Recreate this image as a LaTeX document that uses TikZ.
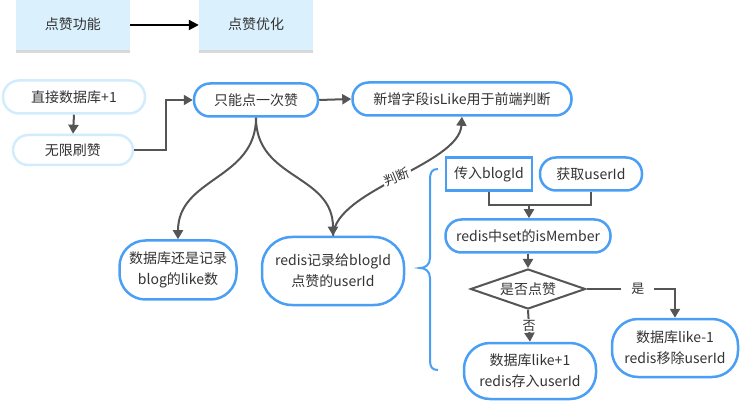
\documentclass[tikz,border=0pt]{standalone}
\usepackage{fontspec}
\setmainfont{Noto Sans CJK SC}
\usetikzlibrary{arrows.meta,shapes.geometric,shadows}
\definecolor{blueb}{HTML}{4A9FF5}
\definecolor{lightb}{HTML}{D3ECFD}
\definecolor{notefill}{HTML}{DAF0FD}
\definecolor{txt}{HTML}{333333}
\definecolor{arr}{HTML}{555555}
\begin{document}
\begin{tikzpicture}[x=1pt,y=-1pt,
  font=\fontsize{14}{21}\selectfont, text=txt,
  note/.style={fill=notefill, minimum width=114pt, minimum height=50pt, inner sep=0pt,
    drop shadow={shadow xshift=0pt, shadow yshift=-3pt, opacity=.15, fill=black}},
  pill/.style={draw=blueb, line width=2.5pt, rounded corners=16pt, minimum height=33pt, inner sep=0pt, fill=white},
  lpill/.style={pill, draw=lightb},
  big/.style={pill, rounded corners=26pt, align=center},
  sqbox/.style={draw=blueb, line width=2.5pt, minimum height=33pt, inner sep=0pt, fill=white},
  dia/.style={diamond, draw=arr, line width=2pt, minimum width=115pt, minimum height=40pt, inner sep=0pt, aspect=2.9},
  garrow/.style={draw=arr, line width=2pt, -{Triangle[width=10pt,length=9pt]}},
  gline/.style={draw=arr, line width=2pt},
  lab/.style={fill=white, inner sep=2pt, font=\fontsize{13}{15}\selectfont}
]
\useasboundingbox (0,0) rectangle (740,401);

% notes
\node[note] (n1) at (73,25) {\raisebox{3pt}{点赞功能}};
\node[note] (n2) at (256,25) {\raisebox{3pt}{点赞优化}};
\draw[line width=2pt, -{Triangle[width=10pt,length=10pt]}] (n1.east) -- (n2.west);

% nodes
\node[lpill, minimum width=142pt] (a) at (74,97) {直接数据库+1};
\node[lpill, minimum width=120pt, minimum height=30pt, rounded corners=15pt] (b) at (73,150) {无限刷赞};
\node[pill, minimum width=124pt] (c) at (256,100) {只能点一次赞};
\node[pill, minimum width=219pt] (d) at (462,99) {新增字段isLike用于前端判断};
\node[big, minimum width=117pt, minimum height=59pt] (e) at (178,270) {数据库还是记录\\blog的like数};
\node[big, minimum width=142pt, minimum height=68pt, rounded corners=30pt] (f) at (333,271) {redis记录给blogId\\点赞的userId};
\node[sqbox, minimum width=86pt] (g) at (489,174) {传入blogId};
\node[pill, minimum width=102pt] (h) at (591,174) {获取userId};
\node[pill, minimum width=165pt] (i) at (528,236) {redis中set的isMember};
\node[dia] (j) at (528,289) {是否点赞};
\node[big, minimum width=126pt, minimum height=58pt] (k) at (675,348) {数据库like-1\\redis移除userId};
\node[big, minimum width=132pt, minimum height=56pt] (l) at (530,371) {数据库like+1\\redis存入userId};

% connectors
\draw[garrow] (a.south) -- (b.north);
\draw[garrow] (b.east) -- ++(32,0) |- (c.west);
\draw[garrow] (c.east) -- (d.west);
\draw[garrow] (c.south) .. controls +(0,62) and +(0,-62) .. (e.north);
\draw[garrow] (c.south) .. controls +(0,62) and +(0,-62) .. (f.north);
\draw[garrow] (f.north) .. controls +(2,-46) and +(-3,48) .. node[lab, rotate=22, midway] {判断} (d.south);

\coordinate (m) at (529,205);
\draw[gline] (g.south) |- (m) -| (h.south);
\draw[garrow] (m) -- (m |- i.north);
\draw[garrow] (i.south) -- (j.north);
\draw[garrow] (j.east) -| node[lab, pos=0.29, inner xsep=10pt] {是} (k.north);
\draw[garrow] (j.south) -- node[lab, pos=0.5, inner sep=1pt] {否} (l.north);

% brace
\draw[blueb, line width=2pt] (438,169) .. controls (432,169) and (430,172) .. (430,180) -- (430,258)
  .. controls (430,265) and (425,268) .. (420,268) .. controls (425,268) and (430,271) .. (430,278)
  -- (430,360) .. controls (430,367) and (432,370) .. (438,370);
\end{tikzpicture}
\end{document}
